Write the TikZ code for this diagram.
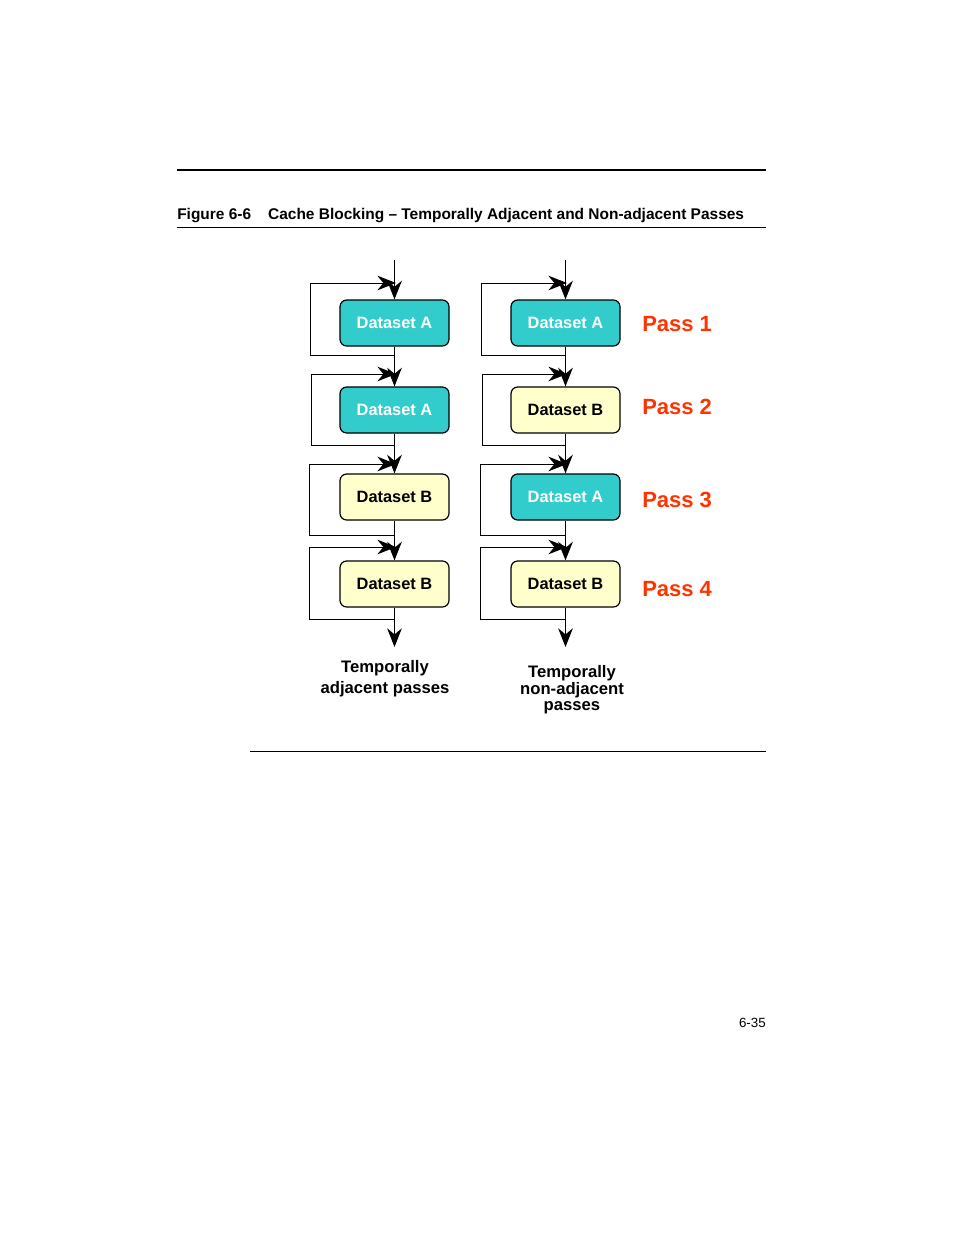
\documentclass[tikz,border=0pt]{standalone}
\usepackage{fontspec}
\setmainfont{Liberation Sans}
\usetikzlibrary{arrows.meta}
\definecolor{teal}{HTML}{33CCCC}
\definecolor{cream}{HTML}{FFFFCC}
\definecolor{passred}{HTML}{FF3300}
\begin{document}
\begin{tikzpicture}[x=0.75pt,y=-0.75pt,
  ds/.style={draw,line width=0.9pt,rounded corners=5pt,minimum width=81.75pt,minimum height=34.5pt,font=\bfseries\fontsize{12.3}{14}\selectfont,inner sep=0pt},
  dsa/.style={ds,fill=teal,text=white},
  dsb/.style={ds,fill=cream,text=black},
  big/.style={-{Stealth[length=14pt,width=11pt]}},
  pass/.style={text=passred,font=\bfseries\fontsize{16.5}{18}\selectfont,anchor=west,inner sep=0pt},
  thin line/.style={line width=0.7pt}, thick line/.style={line width=1.3pt}]
\useasboundingbox (0,0) rectangle (954,1235);
\draw[line width=1.2pt] (177,170) -- (766,170);
\node[anchor=base west,font=\bfseries\fontsize{11.6}{13}\selectfont,inner sep=0] (cap) at (177,219) {Figure 6-6\hspace{1.1em}Cache Blocking – Temporally Adjacent and Non-adjacent Passes};
\draw[line width=0.6pt] (177,227) -- (766,227);
\draw[line width=0.6pt] (250,751) -- (766,751);
\node[anchor=base east,font=\fontsize{10}{12}\selectfont,inner sep=0] (pg) at (766,1027) {6-35};
\foreach \n/\y/\s/\t in {1/323/dsa/A,2/410/dsa/A,3/497/dsb/B,4/584/dsb/B}{
  \node[\s] (L\n) at (394.5,\y) {Dataset \t};}
\foreach \n/\y/\s/\t in {1/323/dsa/A,2/410/dsb/B,3/497/dsa/A,4/584/dsb/B}{
  \node[\s] (R\n) at (565.5,\y) {Dataset \t};}
\coordinate (Lin) at (394.5,260); \coordinate (Rin) at (565.5,260);
\coordinate (Lout) at (394.5,647); \coordinate (Rout) at (565.5,647);
% left loops
\draw[thin line,big] (Lin) -- (L1.north);
\draw[thin line,big] (L1.south) -- ++(0,9) -| (310,283) -- (396,283);
\draw[thin line,big] (L1.south) -- (L2.north);
\draw[thin line,big] (L2.south) -- ++(0,12) -| (311,374) -- (396,374);
\draw[thin line,big] (L2.south) -- (L3.north);
\draw[thin line,big] (L3.south) -- ++(0,15) -| (309,464) -- (396,464);
\draw[thin line,big] (L3.south) -- (L4.north);
\draw[thin line,big] (L4.south) -- ++(0,12) -| (309,547) -- (396,547);
\draw[thin line,big] (L4.south) -- (Lout);
% right loops
\draw[thin line,big] (Rin) -- (R1.north);
\draw[thin line,big] (R1.south) -- ++(0,9) -| (481,283) -- (567,283);
\draw[thick line,big] (R1.south) -- (R2.north);
\draw[thin line,big] (R2.south) -- ++(0,12) -| (482,374) -- (567,374);
\draw[thick line,big] (R2.south) -- (R3.north);
\draw[thin line,big] (R3.south) -- ++(0,15) -| (480,464) -- (567,464);
\draw[thick line,big] (R3.south) -- (R4.north);
\draw[thin line,big] (R4.south) -- ++(0,12) -| (480,547) -- (567,547);
\draw[thick line,big] (R4.south) -- (Rout);
\node[pass] (p1) at (642,324) {Pass 1};
\node[pass] (p2) at (642,407) {Pass 2};
\node[pass] (p3) at (642,500) {Pass 3};
\node[pass] (p4) at (642,589) {Pass 4};
\node[font=\bfseries\fontsize{12.5}{16}\selectfont,align=center] (lt) at (385,679) {Temporally\\adjacent passes};
\node[font=\bfseries\fontsize{12.5}{12.5}\selectfont,align=center] (rt) at (572,690) {Temporally\\non-adjacent\\passes};
\end{tikzpicture}
\end{document}
